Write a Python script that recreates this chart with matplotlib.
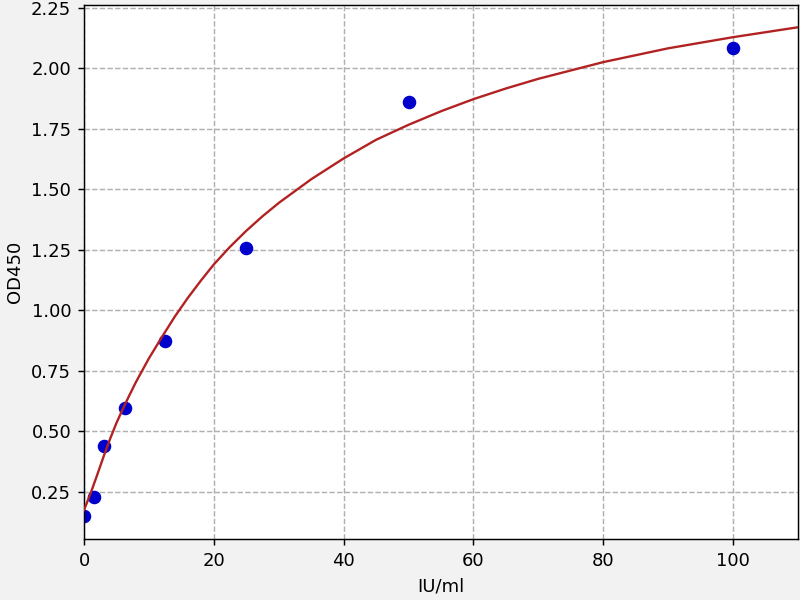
import matplotlib
matplotlib.use("Agg")
import matplotlib.pyplot as plt

# standards (IU/ml) and measured OD450
conc = [0, 1.5625, 3.125, 6.25, 12.5, 25, 50, 100]
od450 = [0.152, 0.228, 0.441, 0.597, 0.872, 1.258, 1.863, 2.086]

# fitted curve
curve_x = [0, 1, 2, 3, 4, 5, 6, 7, 8, 10, 12, 14, 16, 18, 20, 22.5, 25,
           27.5, 30, 35, 40, 45, 50, 55, 60, 65, 70, 80, 90, 100, 110]
curve_y = [0.175, 0.243, 0.318, 0.395, 0.468, 0.535, 0.594, 0.650, 0.704,
           0.802, 0.890, 0.975, 1.052, 1.123, 1.190, 1.263, 1.329, 1.389,
           1.444, 1.542, 1.628, 1.705, 1.767, 1.823, 1.873, 1.917, 1.957,
           2.026, 2.083, 2.129, 2.170]

xticks = [0, 20, 40, 60, 80, 100]
yticks = [0.25, 0.50, 0.75, 1.00, 1.25, 1.50, 1.75, 2.00, 2.25]

dpi = 130
fig = plt.figure(figsize=(800 / dpi, 600 / dpi), dpi=dpi, facecolor='#f2f2f2')
ax = fig.add_axes([0.105, 0.101, 0.8925, 0.8915])
ax.set_facecolor('white')

ax.plot(conc, od450, 'o', color='mediumblue', ms=6.5, zorder=2)
ax.plot(curve_x, curve_y, '-', color='#b22222', lw=1.3, zorder=3)

ax.set_xlim(0, 110)
ax.set_ylim(0.054, 2.264)
ax.set_xticks(xticks)
ax.set_yticks(yticks)
ax.set_yticklabels(['%.2f' % v for v in yticks])
ax.grid(True, linestyle='--', color='#b0b0b0', lw=0.8)
ax.set_axisbelow(True)

ax.set_xlabel('IU/ml')
ax.set_ylabel('OD450')

fig.savefig('out.png', dpi=dpi, facecolor=fig.get_facecolor())
